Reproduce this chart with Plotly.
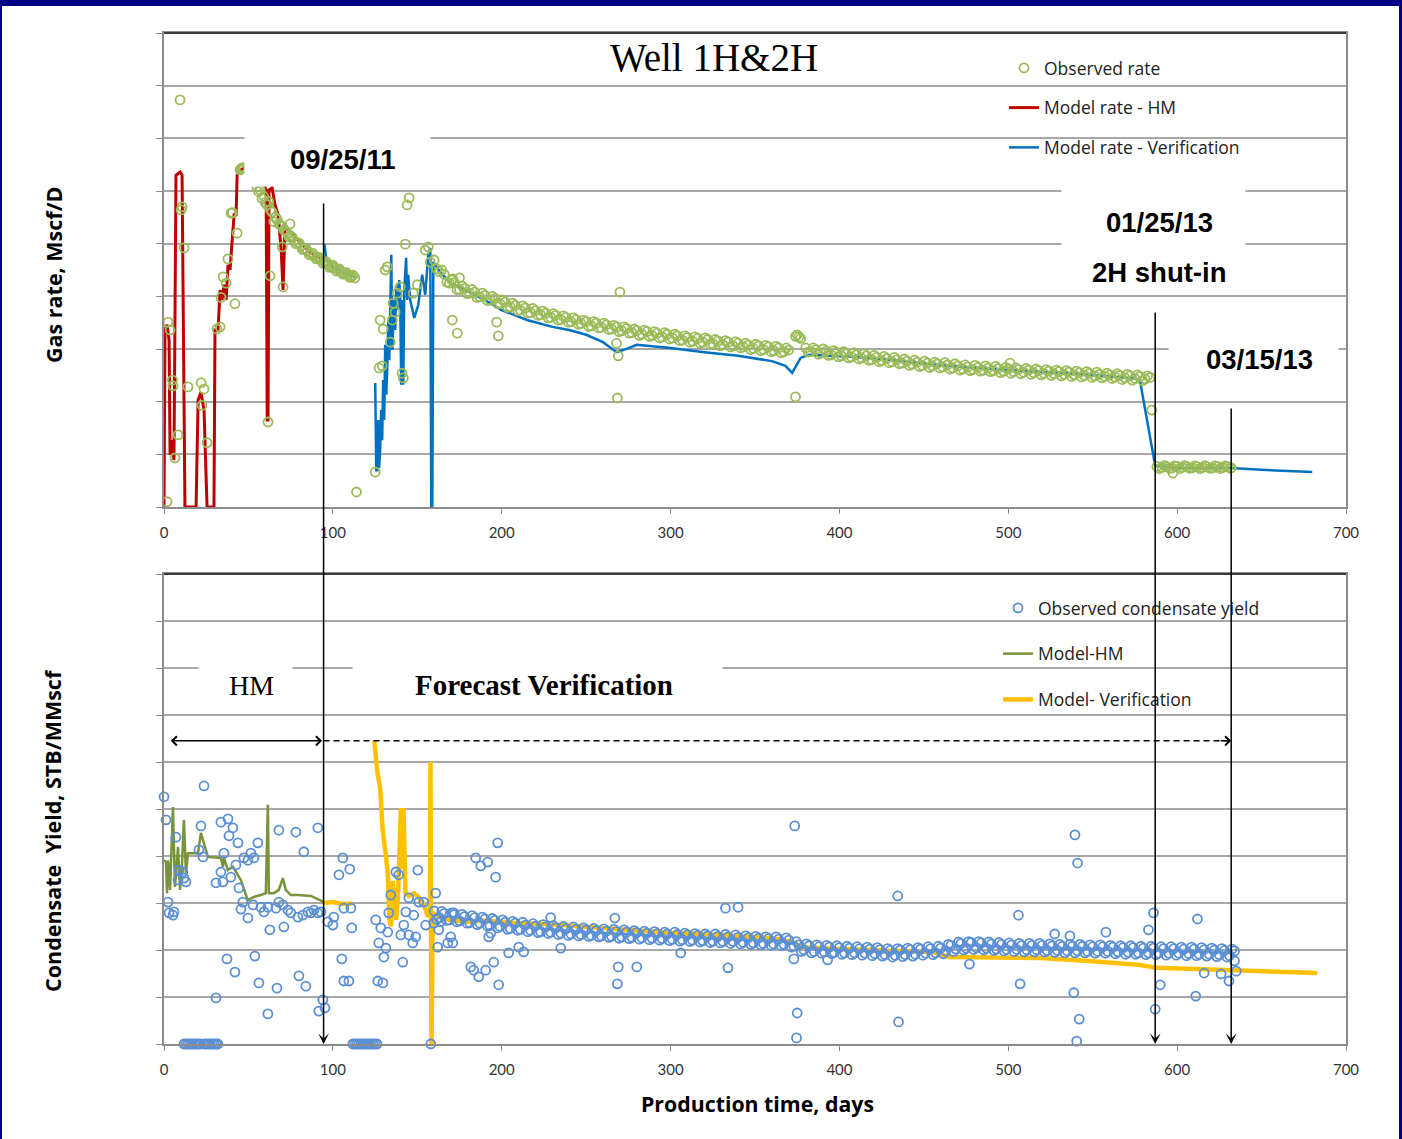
import plotly.graph_objects as go

# ---------------- Gas rate, Well 1H & 2H (Mscf/D) ----------------
# observed rate during the history-match window (day, rate)
rate_obs_hm = [
    (1.8, 100), (2.4, 3510), (3.6, 3360), (5.0, 2410), (5.3, 2300), (6.5, 930), (8.3, 1370),
    (9.5, 7730), (10.1, 5640), (10.7, 5700), (11.9, 4920), (14.2, 2280), (22.0, 2360), (22.5, 1930),
    (23.7, 2240), (25.5, 1220), (31.4, 3380), (33.2, 3420), (33.8, 3980), (35.0, 4370), (36.8, 4250),
    (37.9, 4710), (39.7, 5580), (40.5, 5590), (42.0, 3860), (43.3, 5200), (45.0, 6400), (45.6, 6420),
    (46.2, 6440), (46.8, 6440), (47.4, 6440),
    (55, 6080), (56, 5990), (57, 6020), (58, 5860), (59, 5900), (60, 5780), (61, 5740), (62, 5800),
    (63, 5640), (64, 5600), (65, 5420), (66, 5500), (67, 5460), (68, 5380), (69, 5350), (70, 5330),
    (71, 5260), (72, 5240), (73, 5200), (75, 5150), (77, 5060), (79, 5020), (81, 4950), (83, 4900),
    (85, 4860), (87, 4800), (89, 4770), (91, 4730), (93, 4690), (95, 4650), (97, 4610), (99, 4570),
    (101, 4540), (103, 4500), (105, 4470), (107, 4430), (109, 4400), (111, 4380), (113, 4350),
    (74, 5130), (76, 5120), (78, 5000), (80, 5010), (82, 4890), (84, 4910), (86, 4790), (88, 4820),
    (90, 4710), (92, 4740), (94, 4630), (96, 4660), (98, 4550), (100, 4590), (102, 4480), (104, 4520),
    (106, 4420), (108, 4450), (110, 4360), (112, 4400),
    (61.6, 1614), (62.8, 4390), (70.5, 4178), (70.0, 4940), (74.7, 5374),
]
# observed rate after restart (verification window)
rate_obs_restart = [
    (114, 285), (125.1, 665), (127.4, 2640), (128.0, 3550), (129.2, 2680), (129.8, 3380), (131.0, 4500),
    (132.2, 4560), (134.0, 3130), (135.2, 3550), (135.7, 3870), (136.9, 3700), (138.1, 4060), (139.9, 4180),
    (141.0, 2540), (141.7, 2450), (142.9, 4990), (144.0, 5735), (145.2, 5870), (147.6, 4060), (150.0, 4220),
    (154.7, 4880), (156.5, 4940), (157.7, 4650), (170.7, 3550), (171.0, 4330), (173.7, 3300), (175.0, 4350),
]
rate_obs_trend = [
    (160, 4690), (163, 4470), (166, 4420), (169, 4250), (172, 4260), (175, 4130), (178, 4150), (181, 4060),
    (184, 4080), (187, 3990), (190, 4020), (193, 3930), (196, 3960), (199, 3860), (202, 3890), (205, 3800),
    (208, 3830), (211, 3740), (214, 3780), (217, 3690), (220, 3730), (223, 3650), (226, 3680), (229, 3600),
    (232, 3640), (235, 3560), (238, 3600), (241, 3520), (244, 3560), (247, 3480), (250, 3520), (253, 3440),
    (256, 3490), (259, 3410), (262, 3460), (265, 3380), (268, 3420), (271, 3350), (274, 3390), (277, 3310),
    (280, 3350), (283, 3280), (286, 3330), (289, 3260), (292, 3300), (295, 3230), (298, 3280), (301, 3210),
    (304, 3250), (307, 3170), (310, 3220), (313, 3150), (316, 3200), (319, 3130), (322, 3180), (325, 3100),
    (328, 3150), (331, 3080), (334, 3130), (337, 3060), (340, 3110), (343, 3040), (346, 3080), (349, 3010),
    (352, 3060), (355, 2990), (358, 3040), (361, 2970), (364, 3020), (367, 2950), (370, 2980),
    (374, 3240), (375, 3270), (376, 3230), (377, 3200),
    (380, 3020), (383, 2950), (386, 2990), (389, 2920), (392, 2960), (395, 2890), (398, 2940), (401, 2870),
    (404, 2910), (407, 2850), (410, 2890), (413, 2830), (416, 2870), (419, 2800), (422, 2840), (425, 2780),
    (428, 2820), (431, 2760), (434, 2800), (437, 2730), (440, 2770), (443, 2710), (446, 2750), (449, 2690),
    (452, 2730), (455, 2680), (458, 2720), (461, 2660), (464, 2700), (467, 2640), (470, 2680), (473, 2620),
    (476, 2660), (479, 2610), (482, 2650), (485, 2600), (488, 2640), (491, 2590), (494, 2630), (497, 2580),
    (500, 2620), (503, 2570), (506, 2610), (509, 2560), (512, 2600), (515, 2550), (518, 2590), (521, 2540),
    (524, 2580), (527, 2530), (530, 2570), (533, 2520), (536, 2560), (539, 2510), (542, 2550), (545, 2500),
    (548, 2540), (551, 2490), (554, 2520), (557, 2480), (560, 2510), (563, 2470), (566, 2500), (569, 2450),
    (572, 2490), (575, 2440), (578, 2480), (581, 2430), (584, 2460),
    (585, 1840), (588, 770), (591, 750), (594, 760), (597, 740), (597.5, 646), (600, 770), (603, 750),
    (606, 760), (609, 745), (612, 765), (615, 750), (618, 760), (621, 740), (624, 765), (627, 750),
    (630, 760), (632, 745),
    (197, 3510), (198, 3250), (268, 3110), (269, 2870), (270, 4080), (268.5, 2070), (374, 2090), (501, 2730),
]
# readings taken between the ones above
rate_obs_trend_b = [
    (161.5, 4520), (164.5, 4500), (167.5, 4270), (170.5, 4310), (173.5, 4130), (176.5, 4200), (179.5, 4050),
    (182.5, 4130), (185.5, 3980), (188.5, 4060), (191.5, 3920), (194.5, 4000), (197.5, 3860), (200.5, 3930),
    (203.5, 3790), (206.5, 3870), (209.5, 3730), (212.5, 3820), (215.5, 3680), (218.5, 3770), (221.5, 3640),
    (224.5, 3720), (227.5, 3590), (230.5, 3670), (233.5, 3550), (236.5, 3630), (239.5, 3510), (242.5, 3590),
    (245.5, 3470), (248.5, 3550), (251.5, 3430), (254.5, 3520), (257.5, 3400), (260.5, 3490), (263.5, 3370),
    (266.5, 3450), (269.5, 3330), (272.5, 3420), (275.5, 3300), (278.5, 3380), (281.5, 3260), (284.5, 3360),
    (287.5, 3240), (290.5, 3330), (293.5, 3210), (296.5, 3310), (299.5, 3190), (302.5, 3280), (305.5, 3160),
    (308.5, 3250), (311.5, 3130), (314.5, 3230), (317.5, 3110), (320.5, 3210), (323.5, 3090), (326.5, 3180),
    (329.5, 3060), (332.5, 3160), (335.5, 3040), (338.5, 3140), (341.5, 3020), (344.5, 3110), (347.5, 2990),
    (350.5, 3090), (353.5, 2970), (356.5, 3070), (359.5, 2950), (362.5, 3050), (365.5, 2930), (368.5, 3020),
    (381.5, 2940), (384.5, 3020), (387.5, 2900), (390.5, 3000), (393.5, 2880), (396.5, 2970), (399.5, 2850),
    (402.5, 2950), (405.5, 2830), (408.5, 2930), (411.5, 2810), (414.5, 2910), (417.5, 2790), (420.5, 2880),
    (423.5, 2760), (426.5, 2860), (429.5, 2740), (432.5, 2840), (435.5, 2720), (438.5, 2810), (441.5, 2690),
    (444.5, 2790), (447.5, 2670), (450.5, 2770), (453.5, 2650), (456.5, 2750), (459.5, 2640), (462.5, 2740),
    (465.5, 2620), (468.5, 2720), (471.5, 2600), (474.5, 2700), (477.5, 2590), (480.5, 2690), (483.5, 2580),
    (486.5, 2680), (489.5, 2570), (492.5, 2670), (495.5, 2550), (498.5, 2650), (501.5, 2540), (504.5, 2640),
    (507.5, 2530), (510.5, 2630), (513.5, 2520), (516.5, 2620), (519.5, 2510), (522.5, 2610), (525.5, 2500),
    (528.5, 2600), (531.5, 2490), (534.5, 2590), (537.5, 2480), (540.5, 2580), (543.5, 2470), (546.5, 2570),
    (549.5, 2460), (552.5, 2560), (555.5, 2450), (558.5, 2540), (561.5, 2440), (564.5, 2530), (567.5, 2420),
    (570.5, 2520), (573.5, 2410), (576.5, 2510), (579.5, 2400), (582.5, 2490),
    (589.5, 730), (592.5, 785), (595.5, 735), (598.5, 780), (601.5, 730), (604.5, 785), (607.5, 735),
    (610.5, 780), (613.5, 730), (616.5, 785), (619.5, 735), (622.5, 780), (625.5, 730), (628.5, 780),
    (631.5, 735),
]
# simulated rate, history match
rate_model_hm = [
    (0, 0), (0.6, 3360), (1.8, 3460), (3.0, 3170), (3.6, 990), (4.7, 1270), (5.9, 890), (7.1, 6300),
    (9.5, 6360), (10.7, 6300), (12.4, 0), (19.0, 0), (20.2, 2030), (21.9, 2180), (23.7, 1840), (25.5, 0),
    (29.6, 0), (30.2, 3360), (32.0, 3360), (33.2, 4120), (34.4, 3930), (35.6, 4220), (36.8, 3930),
    (37.9, 4600), (39.1, 4500), (40.3, 5070), (41.5, 5550), (42.7, 5550), (43.3, 6300), (45.0, 6400),
    (48.0, 6440), (54.5, 6400), (59.3, 6080), (60.5, 6020), (61.1, 1650), (61.6, 1650), (62.2, 6020),
    (64.0, 6060), (65.8, 5730), (67.6, 5550), (69.4, 4880), (70.5, 4120), (71.7, 5360), (74.7, 5220),
    (80.6, 5030), (86.5, 4840), (94.3, 4690),
]
# simulated rate, forecast verification (None = no production)
rate_model_ver = [
    (95, 4990), (96, 4730), (100, 4560), (106, 4460), (113, 4370), (None, None),
    (125.1, 2355), (125.7, 700), (126.3, 700), (126.9, 1650), (127.4, 740), (128.0, 1080), (128.6, 1840),
    (129.2, 1270), (129.8, 2410), (130.4, 1650), (131.0, 3080), (131.6, 2130), (132.2, 2600), (132.8, 3550),
    (133.4, 2790), (134.6, 4790), (135.2, 2980), (136.3, 3930), (136.9, 3360), (137.5, 4220), (138.1, 3740),
    (139.3, 4310), (139.9, 3930), (140.5, 2320), (141.1, 3930), (141.7, 2320), (142.3, 4120), (143.4, 4730),
    (144.0, 3930), (144.6, 4410), (145.8, 3930), (148.2, 3590), (150.6, 3840), (152.9, 4410), (154.7, 4030),
    (156.5, 4790), (157.7, 4920), (158.3, 0), (158.9, 0), (159.5, 4650), (163.6, 4460), (169.5, 4250),
    (181, 4080), (190, 3930), (200, 3740), (215, 3550), (230, 3420), (240, 3360), (250, 3270), (260, 3130),
    (268, 2940), (272, 2980), (280, 3080), (300, 3020), (320, 2940), (340, 2870), (360, 2770), (368, 2680),
    (372, 2545), (377, 2830), (382, 2890), (395, 2870), (410, 2850), (430, 2790), (460, 2690), (500, 2600),
    (540, 2530), (575, 2440), (578, 2400), (587, 780), (600, 745), (632, 740), (650, 705), (680, 665),
]

# ---------------- Condensate yield (STB/MMscf) ----------------
yield_obs_hm = [
    (0, 52.6), (1.2, 47.7), (23.7, 54.9), (2.4, 30.2), (3.0, 27.9), (5.3, 27.4), (5.9, 28.1), (7.1, 44.0),
    (8.9, 37.0), (11.2, 36.6), (11.8, 35.3), (13.0, 34.5), (8.3, 34.9), (21.9, 46.4), (20.7, 41.3),
    (23.1, 39.8), (30.8, 34.3), (33.7, 47.2), (37.9, 47.9), (40.8, 46.0), (38.5, 44.3), (35.5, 40.6),
    (33.7, 36.6), (43.8, 42.8), (39.6, 35.5), (34.9, 34.5), (44.4, 33.2), (42.6, 38.1), (47.3, 39.6),
    (49.7, 39.1), (51.5, 40.6), (53.3, 39.6), (55.6, 42.8), (46.7, 30.2), (45.6, 28.7), (49.7, 26.8),
    (52.7, 29.6), (57.4, 29.1), (59.2, 28.1), (61.5, 29.1), (66.3, 28.9), (68.0, 45.5), (78.1, 45.1),
    (82.8, 40.9), (91.1, 46.0), (68.0, 30.2), (70.4, 29.6), (73.4, 28.5), (75.1, 27.9), (79.3, 27.0),
    (82.2, 27.4), (85.2, 28.1), (87.0, 27.9), (88.8, 28.5), (91.1, 27.9), (92.9, 28.1), (71.0, 24.9),
    (62.7, 24.3), (37.3, 18.1), (42.0, 15.3), (53.8, 18.7), (56.2, 13.0), (66.9, 11.9), (79.9, 14.5),
    (84.0, 12.3), (30.8, 9.8), (61.5, 6.4), (94.1, 9.4), (91.7, 7.0), (95.3, 7.7),
    (11.8, 0), (13.0, 0), (14.2, 0), (15.4, 0), (16.6, 0), (17.8, 0), (19.0, 0), (20.2, 0), (21.4, 0),
    (23.7, 0), (24.9, 0), (26.1, 0), (27.3, 0), (28.5, 0), (29.7, 0), (30.9, 0), (31.9, 0),
]
yield_obs_restart = [
    (97.0, 26.0), (100.6, 27.0), (100.0, 25.3), (103.6, 36.0), (105.9, 39.6), (110.0, 37.2), (110.7, 28.9),
    (106.5, 28.9), (111.2, 24.7), (105.3, 18.1), (106.5, 13.4), (109.5, 13.4),
    (111.8, 0), (113.0, 0), (114.2, 0), (115.4, 0), (116.6, 0), (117.8, 0), (119.0, 0), (120.2, 0),
    (121.4, 0), (122.6, 0), (123.8, 0), (125.0, 0), (126.2, 0), (158.0, 0),
    (125.4, 26.4), (128.4, 24.7), (127.2, 21.5), (130.2, 18.5), (131.4, 20.4), (132.5, 23.8), (133.1, 27.9),
    (134.3, 31.7), (137.3, 36.6), (139.0, 36.0), (143.2, 28.1), (147.9, 27.4), (145.0, 23.2), (142.0, 25.3),
    (140.2, 23.2), (147.3, 21.5), (149.1, 22.8), (141.4, 17.4), (150.3, 37.0), (145.0, 31.1), (150.9, 30.2),
    (153.8, 30.2), (155.0, 25.3), (160.9, 32.1), (126.6, 13.4), (129.6, 13.0), (159.8, 25.7), (162.1, 20.6),
    (162.7, 24.3), (163.9, 26.0), (168.0, 21.5), (171.0, 21.5), (169.8, 22.8), (171.6, 27.9), (181.7, 16.4),
    (183.4, 15.7), (186.4, 14.3), (190.5, 15.7), (195.3, 17.4), (198.2, 12.6), (204.1, 19.4), (210.1, 20.6),
    (213.0, 19.6), (184.6, 39.6), (187.6, 37.9), (191.7, 38.7), (196.4, 35.5), (197.6, 42.8), (192.3, 22.8),
    (193.5, 23.6),
]
yield_obs_trend = [
    (160, 28.3), (163, 26.9), (166, 27.8), (169, 26.4), (172, 27.6), (175, 26.2), (178, 27.1), (181, 25.8),
    (184, 26.9), (187, 25.7), (190, 26.6), (193, 25.2), (196, 26.3), (199, 25.0), (202, 25.9), (205, 24.6),
    (208, 25.7), (211, 24.4), (214, 25.3), (217, 24.2), (220, 25.1), (223, 23.9), (226, 24.9), (229, 23.8),
    (232, 24.7), (235, 23.6), (238, 24.5), (241, 23.4), (244, 24.4), (247, 23.3), (250, 24.2), (253, 23.1),
    (256, 24.1), (259, 23.0), (262, 24.0), (265, 22.9), (268, 23.9), (271, 22.8), (274, 23.8), (277, 22.7),
    (280, 23.7), (283, 22.6), (286, 23.6), (289, 22.5), (292, 23.5), (295, 22.4), (298, 23.4), (301, 22.3),
    (304, 23.3), (307, 22.2), (310, 23.2), (313, 22.1), (316, 23.1), (319, 22.0), (322, 23.0), (325, 21.9),
    (328, 22.9), (331, 21.8), (334, 22.8), (337, 21.8), (340, 22.7), (343, 21.6), (346, 22.6), (349, 21.5),
    (352, 22.5), (355, 21.4), (358, 22.4), (361, 21.3), (364, 22.3), (367, 21.2), (370, 22.1), (373, 20.8),
    (376, 21.1), (379, 20.0), (382, 20.9), (385, 19.7), (388, 20.7), (391, 19.6), (394, 20.6), (397, 19.5),
    (400, 20.5), (403, 19.4), (406, 20.4), (409, 19.4), (412, 20.3), (415, 19.3), (418, 20.2), (421, 19.2),
    (424, 20.1), (427, 19.0), (430, 19.9), (433, 18.9), (436, 20.0), (439, 19.0), (442, 20.1), (445, 19.1),
    (448, 20.2), (451, 19.3), (454, 20.3), (457, 19.4), (460, 20.4), (463, 19.8), (466, 21.0), (469, 20.2),
    (472, 21.4), (475, 20.4), (478, 21.6), (481, 20.5), (484, 21.5), (487, 20.4), (490, 21.3), (493, 20.2),
    (496, 21.2), (499, 20.1), (502, 21.1), (505, 20.1), (508, 21.0), (511, 20.0), (514, 21.0), (517, 20.0),
    (520, 21.0), (523, 19.9), (526, 20.9), (529, 19.9), (532, 20.8), (535, 19.8), (538, 20.8), (541, 19.8),
    (544, 20.8), (547, 19.7), (550, 20.7), (553, 19.7), (556, 20.7), (559, 19.7), (562, 20.6), (565, 19.6),
    (568, 20.5), (571, 19.5), (574, 20.5), (577, 19.4), (580, 20.4), (583, 19.4), (586, 20.4), (589, 19.3),
    (592, 20.3), (595, 19.3), (598, 20.3), (601, 19.3), (604, 20.2), (607, 19.2), (610, 20.2), (613, 19.1),
    (616, 20.1), (619, 19.1), (622, 20.0), (625, 19.0), (628, 19.9), (631, 18.8), (634, 19.8),
]
yield_obs_trend_b = [
    (161.5, 26.5), (164.5, 28.2), (167.5, 26.3), (170.5, 27.9), (173.5, 26.0), (176.5, 27.6), (179.5, 25.7),
    (182.5, 27.3), (185.5, 25.4), (188.5, 27.0), (191.5, 25.1), (194.5, 26.7), (197.5, 24.7), (200.5, 26.4),
    (203.5, 24.4), (206.5, 26.1), (209.5, 24.2), (212.5, 25.9), (215.5, 23.9), (218.5, 25.6), (221.5, 23.7),
    (224.5, 25.4), (227.5, 23.5), (230.5, 25.2), (233.5, 23.3), (236.5, 25.0), (239.5, 23.1), (242.5, 24.9),
    (245.5, 23.0), (248.5, 24.7), (251.5, 22.9), (254.5, 24.6), (257.5, 22.8), (260.5, 24.5), (263.5, 22.7),
    (266.5, 24.4), (269.5, 22.5), (272.5, 24.3), (275.5, 22.4), (278.5, 24.1), (281.5, 22.3), (284.5, 24.0),
    (287.5, 22.2), (290.5, 23.9), (293.5, 22.1), (296.5, 23.8), (299.5, 22.0), (302.5, 23.8), (305.5, 21.9),
    (308.5, 23.6), (311.5, 21.8), (314.5, 23.5), (317.5, 21.7), (320.5, 23.4), (323.5, 21.6), (326.5, 23.4),
    (329.5, 21.5), (332.5, 23.3), (335.5, 21.4), (338.5, 23.2), (341.5, 21.3), (344.5, 23.0), (347.5, 21.2),
    (350.5, 22.9), (353.5, 21.1), (356.5, 22.8), (359.5, 21.0), (362.5, 22.8), (365.5, 20.9), (368.5, 22.6),
    (371.5, 20.6), (374.5, 21.8), (377.5, 19.7), (380.5, 21.3), (383.5, 19.4), (386.5, 21.1), (389.5, 19.3),
    (392.5, 21.0), (395.5, 19.2), (398.5, 20.9), (401.5, 19.1), (404.5, 20.8), (407.5, 19.0), (410.5, 20.7),
    (413.5, 18.9), (416.5, 20.6), (419.5, 18.8), (422.5, 20.5), (425.5, 18.7), (428.5, 20.3), (431.5, 18.5),
    (434.5, 20.3), (437.5, 18.6), (440.5, 20.4), (443.5, 18.7), (446.5, 20.5), (449.5, 18.9), (452.5, 20.7),
    (455.5, 19.0), (458.5, 20.8), (461.5, 19.2), (464.5, 21.2), (467.5, 19.7), (470.5, 21.7), (473.5, 20.0),
    (476.5, 21.8), (479.5, 20.1), (482.5, 21.8), (485.5, 20.0), (488.5, 21.7), (491.5, 19.9), (494.5, 21.6),
    (497.5, 19.8), (500.5, 21.5), (503.5, 19.7), (506.5, 21.4), (509.5, 19.6), (512.5, 21.4), (515.5, 19.6),
    (518.5, 21.4), (521.5, 19.6), (524.5, 21.3), (527.5, 19.5), (530.5, 21.2), (533.5, 19.4), (536.5, 21.2),
    (539.5, 19.4), (542.5, 21.2), (545.5, 19.4), (548.5, 21.1), (551.5, 19.3), (554.5, 21.1), (557.5, 19.3),
    (560.5, 21.0), (563.5, 19.2), (566.5, 20.9), (569.5, 19.1), (572.5, 20.9), (575.5, 19.1), (578.5, 20.8),
    (581.5, 19.0), (584.5, 20.8), (587.5, 19.0), (590.5, 20.7), (593.5, 18.9), (596.5, 20.7), (599.5, 18.9),
    (602.5, 20.6), (605.5, 18.8), (608.5, 20.6), (611.5, 18.8), (614.5, 20.5), (617.5, 18.7), (620.5, 20.4),
    (623.5, 18.6), (626.5, 20.3), (629.5, 18.5), (632.5, 20.2),
]
yield_obs_outliers = [
    (267, 26.8), (269, 16.4), (268.5, 12.8), (280, 16.4), (306, 19.4), (332.5, 28.9), (340, 29.1),
    (334, 16.2), (375, 6.6), (374.6, 1.3), (373.5, 46.4), (434.5, 31.5), (435, 4.7), (506, 27.4),
    (507, 12.8), (373, 18.1), (393, 17.9), (477, 17.0), (539.5, 44.5), (541, 38.5), (538.8, 10.9),
    (542, 5.3), (540.5, 0.6), (586, 27.9), (583, 24.3), (527.5, 23.4), (536.5, 23.0), (557.8, 23.8),
    (612, 26.6), (590, 12.6), (587, 7.4), (611, 10.2), (616, 15.1), (626, 14.9), (630.7, 13.4),
    (635, 15.5), (634, 17.7), (235, 20.4), (229, 26.9),
]
yield_model_hm = [
    (0, 39.1), (1.2, 38.7), (1.8, 32.1), (2.4, 39.1), (3.6, 32.8), (5.3, 50.4), (5.9, 41.9), (6.5, 33.4),
    (8.3, 41.9), (9.5, 32.8), (10.6, 37.7), (11.2, 41.9), (11.8, 47.7), (13.0, 36.4), (14.2, 40.6),
    (20.1, 40.6), (21.9, 44.9), (23.6, 42.8), (26.0, 39.8), (33.7, 39.6), (34.9, 37.7), (35.5, 39.6),
    (37.8, 37.0), (40.8, 37.7), (42.6, 36.6), (45.5, 34.9), (49.6, 30.6), (53.2, 31.3), (57.3, 31.7),
    (60.3, 32.1), (61.5, 50.9), (62.1, 32.1), (65.0, 32.1), (68.0, 32.8), (70.4, 35.3), (72.1, 32.8),
    (75.1, 31.7), (79.3, 31.7), (87.0, 31.5), (92.9, 30.6), (94.7, 30.2),
]
yield_model_ver = [
    (94.5, 30.0), (100, 30.2), (105, 29.8), (111.5, 29.9), (None, None),
    (124.5, 64.5), (125.5, 60.5), (126.5, 57.5), (128.0, 54.5), (129.5, 45.5), (131.0, 41.3), (132.5, 36.4),
    (133.5, 26.4), (134.5, 25.0), (135.5, 34.7), (136.5, 31.1), (137.5, 26.4), (138.5, 31.1), (140.3, 50.2),
    (141.0, 37.2), (141.8, 50.2), (143.0, 32.1), (145.0, 31.5), (148.0, 32.1), (150.5, 31.3), (154.0, 29.6),
    (156.0, 27.4), (157.5, 27.4), (157.8, 60.0), (158.4, 0), (159.2, 27.9), (163, 27.0), (169, 26.4),
    (179, 26.0), (189, 26.2), (199, 26.0), (209, 25.7), (229, 25.5), (250, 25.0), (270, 24.3), (300, 23.6),
    (330, 23.2), (360, 22.5), (372, 21.7), (378, 20.6), (400, 20.2), (430, 19.8), (455, 19.6), (465, 18.5),
    (500, 18.3), (519, 18.3), (550, 17.6), (578, 16.8), (588, 16.2), (638, 15.5), (683, 15.1),
]

# event dates (production day)
day_hm_end = 94.5        # 09/25/11
day_shut_in = 587        # 01/25/13, 2H shut-in
day_last = 632           # 03/15/13
arrow_level = 64.5       # height of the period arrows on the yield axis

x_ticks = [0, 100, 200, 300, 400, 500, 600, 700]


def unzip(pairs):
    return [p[0] for p in pairs], [p[1] for p in pairs]


GREEN = "#9BBB59"
RED = "#C00000"
BLUE = "#0070C0"
OBS_BLUE = "#5B8FD5"
OLIVE = "#77933C"
YELLOW = "#FFC000"

MARK = dict(symbol="circle-open", size=9)

fig = go.Figure()

# top panel: gas rate
x, y = unzip(rate_model_hm)
fig.add_trace(go.Scatter(x=x, y=y, mode="lines", name="Model rate - HM", line=dict(color=RED, width=3),
                         xaxis="x", yaxis="y", legend="legend", legendgroup="r2", legendrank=2))
x, y = unzip(rate_model_ver)
fig.add_trace(go.Scatter(x=x, y=y, mode="lines", name="Model rate - Verification", line=dict(color=BLUE, width=2.5),
                         xaxis="x", yaxis="y", legend="legend", legendgroup="r3", legendrank=3, connectgaps=False))
x, y = unzip(rate_obs_hm + rate_obs_restart + rate_obs_trend + rate_obs_trend_b)
fig.add_trace(go.Scatter(x=x, y=y, mode="markers", name="Observed rate",
                         marker=dict(color=GREEN, line=dict(width=1.8), **MARK),
                         xaxis="x", yaxis="y", legend="legend", legendgroup="r1", legendrank=1, cliponaxis=False))

# bottom panel: condensate yield
x, y = unzip(yield_model_hm)
fig.add_trace(go.Scatter(x=x, y=y, mode="lines", name="Model-HM", line=dict(color=OLIVE, width=2.5),
                         xaxis="x2", yaxis="y2", legend="legend2", legendgroup="c2", legendrank=2))
x, y = unzip(yield_model_ver)
fig.add_trace(go.Scatter(x=x, y=y, mode="lines", name="Model- Verification", line=dict(color=YELLOW, width=4.5),
                         xaxis="x2", yaxis="y2", legend="legend2", legendgroup="c3", legendrank=3, connectgaps=False))
x, y = unzip(yield_obs_hm + yield_obs_restart + yield_obs_trend + yield_obs_trend_b + yield_obs_outliers)
fig.add_trace(go.Scatter(x=x, y=y, mode="markers", name="Observed condensate yield",
                         marker=dict(color=OBS_BLUE, line=dict(width=1.8), **MARK),
                         xaxis="x2", yaxis="y2", legend="legend2", legendgroup="c1", legendrank=1, cliponaxis=False))

W, H = 1402, 1139
ML, MR, MT, MB = 164, 56, 33, 95
PW, PH = W - ML - MR, H - MT - MB


def px(X):
    return (X - ML) / PW


def py(Y):
    return (H - MB - Y) / PH


top_dom = [py(507), 1.0]
bot_dom = [0.0, py(574)]

xcommon = dict(range=[0, 700], tickvals=x_ticks, ticks="outside", ticklen=5, tickcolor="#8C8C8C",
               showgrid=False, zeroline=False, showline=True, linecolor="#8C8C8C", linewidth=2, mirror=True,
               tickfont=dict(family="Lato", size=15, color="#333333"), ticklabelstandoff=6)
ycommon = dict(showticklabels=False, ticks="outside", ticklen=6, tickcolor="#8C8C8C", showgrid=True,
               gridcolor="#A8A8A8", gridwidth=1.6, zeroline=False, showline=True, linecolor="#8C8C8C",
               linewidth=2, mirror=True)

legend_font = dict(family="Open Sans", size=17.5, color="#222222")

fig.update_layout(
    width=W, height=H, margin=dict(l=ML, r=MR, t=MT, b=MB),
    paper_bgcolor="white", plot_bgcolor="white",
    font=dict(family="Lato", color="#222222"),
    xaxis=dict(domain=[0, 1], anchor="y", **xcommon),
    yaxis=dict(domain=top_dom, anchor="x", range=[0, 9000], dtick=1000, **ycommon),
    xaxis2=dict(domain=[0, 1], anchor="y2", **xcommon),
    yaxis2=dict(domain=bot_dom, anchor="x2", range=[0, 100], dtick=10, **ycommon),
    legend=dict(x=px(1004), y=py(50), xanchor="left", yanchor="top", bgcolor="rgba(0,0,0,0)",
                font=legend_font, tracegroupgap=14, itemwidth=30, traceorder="grouped"),
    legend2=dict(x=px(998), y=py(590), xanchor="left", yanchor="top", bgcolor="rgba(0,0,0,0)",
                 font=legend_font, tracegroupgap=20, itemwidth=30, traceorder="grouped"),
    showlegend=True,
)

shapes = [
    # darker upper frame edges
    dict(type="line", xref="x domain", yref="y domain", x0=0, x1=1, y0=1, y1=1,
         line=dict(color="#3C3C3C", width=2)),
    dict(type="line", xref="x2 domain", yref="y2 domain", x0=0, x1=1, y0=1, y1=1,
         line=dict(color="#3C3C3C", width=2)),
    # dashed forecast-verification period
    dict(type="line", xref="x2", yref="y2", x0=day_hm_end, x1=day_last - 1, y0=arrow_level, y1=arrow_level,
         line=dict(color="black", width=1.5, dash="6px,4px")),
    # navy frame of the slide
    dict(type="rect", xref="paper", yref="paper", x0=px(-20), x1=px(W + 20), y0=py(6), y1=py(-20),
         fillcolor="#000080", line=dict(width=0), layer="above"),
    dict(type="rect", xref="paper", yref="paper", x0=px(-20), x1=px(2), y0=py(H + 20), y1=py(-20),
         fillcolor="#000080", line=dict(width=0), layer="above"),
    dict(type="rect", xref="paper", yref="paper", x0=px(W - 3), x1=px(W + 20), y0=py(H + 20), y1=py(-20),
         fillcolor="#000080", line=dict(width=0), layer="above"),
]
fig.update_layout(shapes=shapes)

date_font = dict(family="Liberation Sans", size=27.5, color="black", weight="bold")
axis_title_font = dict(family="Open Sans", size=21.5, color="black", weight="bold")

ann = [
    # white label boxes, cut through gridlines and data
    dict(text=" ", x=px(337.5), y=py(157), width=185, height=58, bgcolor="white"),
    dict(text=" ", x=px(1153.5), y=py(235), width=183, height=114, bgcolor="white"),
    dict(text=" ", x=px(1253.5), y=py(361), width=169, height=60, bgcolor="white"),
    dict(text=" ", x=px(245.5), y=py(683), width=93, height=44, bgcolor="white"),
    dict(text=" ", x=px(537.5), y=py(684), width=369, height=44, bgcolor="white"),
    # labels
    dict(text="Well 1H&2H", x=px(714), y=py(57), font=dict(family="Liberation Serif", size=39, color="black")),
    dict(text="09/25/11", x=px(343), y=py(160), font=date_font),
    dict(text="01/25/13", x=px(1159), y=py(222), font=date_font),
    dict(text="2H shut-in", x=px(1159), y=py(272), font=date_font),
    dict(text="03/15/13", x=px(1259.5), y=py(360), font=date_font),
    dict(text="HM", x=px(251), y=py(685), font=dict(family="Liberation Serif", size=28, color="black")),
    dict(text="Forecast Verification", x=px(543.5), y=py(685),
         font=dict(family="Liberation Serif", size=29, color="black", weight="bold")),
    dict(text="Gas rate, Mscf/D", x=px(53), y=py(275), textangle=-90, font=axis_title_font),
    dict(text="Condensate  Yield, STB/MMscf", x=px(53), y=py(831), textangle=-90, font=axis_title_font),
    dict(text="Production time, days", x=px(757), y=py(1103),
         font=dict(family="Open Sans", size=21.3, color="black", weight="bold")),
]
for a in ann:
    a.update(xref="paper", yref="paper", showarrow=False, xanchor="center", yanchor="middle",
             borderpad=0, align="center", valign="middle")
    fig.add_annotation(**a)

# event markers running down through both panels
for day, top_px in [(day_hm_end, 202), (day_shut_in, 311), (day_last, 407)]:
    fig.add_annotation(x=day, y=0, xref="x2", yref="y2", ax=0, ay=-(H - MB - top_px), axref="pixel",
                       ayref="pixel", text="", showarrow=True, arrowhead=3, arrowsize=1.2, arrowwidth=1.5,
                       arrowcolor="black")

# history-match period arrow
fig.add_annotation(x=4, y=arrow_level, xref="x2", yref="y2", ax=day_hm_end, ay=arrow_level, axref="x2",
                   ayref="y2", text="", showarrow=True, arrowside="end+start", arrowhead=4, startarrowhead=4,
                   arrowsize=1.2, startarrowsize=1.2, arrowwidth=1.5, arrowcolor="black")
# head of the verification period arrow
fig.add_annotation(x=day_last, y=arrow_level, xref="x2", yref="y2", ax=-12, ay=0, axref="pixel",
                   ayref="pixel", text="", showarrow=True, arrowhead=4, arrowsize=1.2, arrowwidth=1.5,
                   arrowcolor="black")

fig.write_html("out.html")
